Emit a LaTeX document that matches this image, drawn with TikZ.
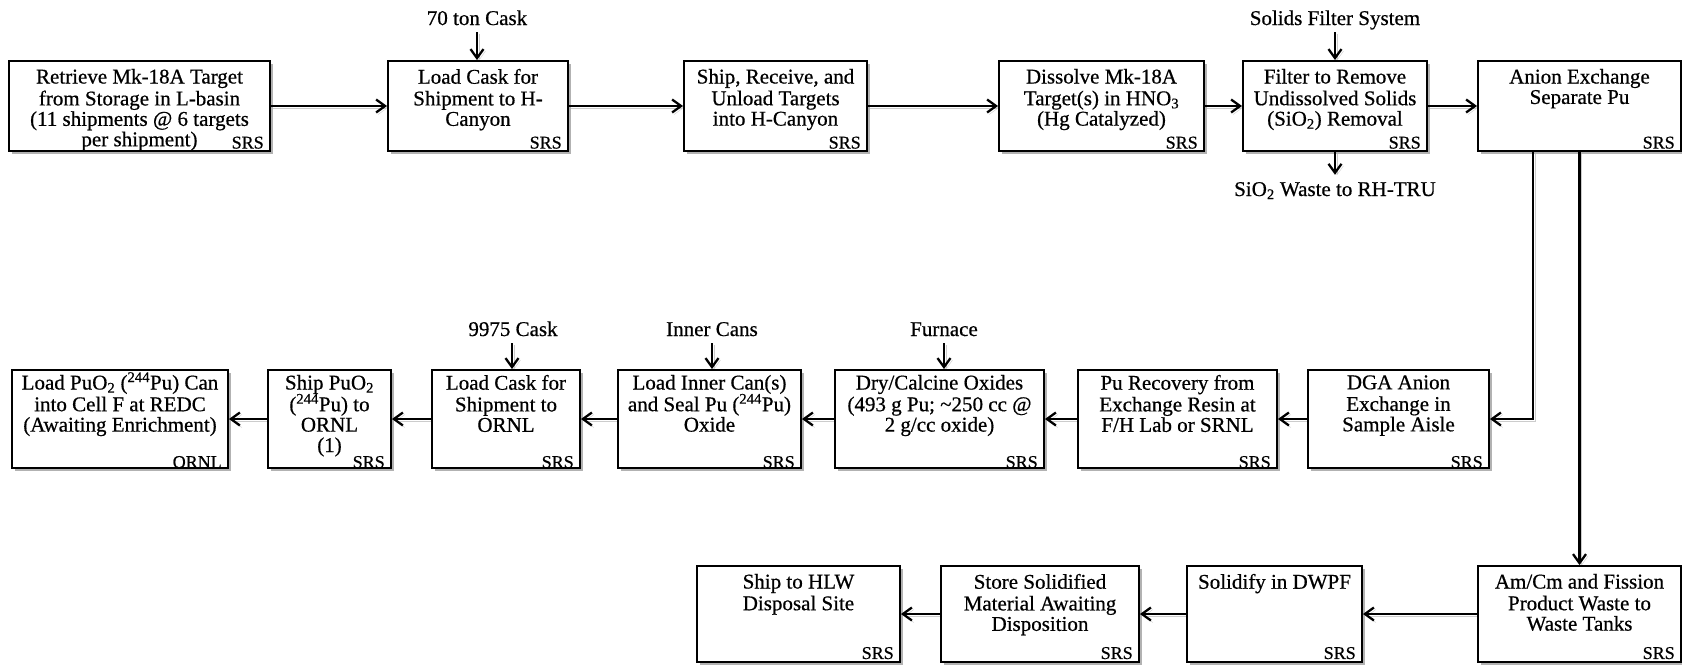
\documentclass[tikz,border=0pt]{standalone}
\usepackage{fontspec}
\setmainfont{Liberation Serif}[FakeBold=0.6]
\usetikzlibrary{arrows.meta,shadows}

% sub/superscripts that do not disturb the line spacing
\newcommand\sups[1]{\smash{\textsuperscript{#1}}}
\newcommand\subs[1]{\smash{\textsubscript{#1}}}

\tikzset{
  stagebox/.style={draw, line width=1.9pt, fill=white, inner sep=0pt,
    drop shadow={shadow xshift=2.5pt, shadow yshift=-2.5pt, fill=black, opacity=0.3}},
  stagetext/.style={anchor=north, inner sep=0pt, align=center,
    font=\fontsize{21}{20.4}\selectfont},
  sitetext/.style={anchor=base east, inner sep=0pt, font=\fontsize{18}{18}\selectfont},
  feed/.style={anchor=base, inner sep=0pt, text depth=0pt,
    font=\fontsize{21}{20.4}\selectfont},
  flow/.style={line width=2.3pt, -{Straight Barb[length=9pt,width=13pt]},
    preaction={draw=black, opacity=0.2, transform canvas={xshift=2pt,yshift=-2pt}}},
}

% process step: name, left, top, right, bottom, text, site, text drop, site lift
\newcommand\stage[9]{%
  \node[stagebox, minimum width={#4-#2}, minimum height={#5-#3}] (#1)
    at ({(#2+#4)/2},{(#3+#5)/2}) {};
  \node[stagetext] at ([yshift=-#8]#1.north) {\strut #6};
  \node[sitetext] at ([xshift=-7pt,yshift=#9]#1.south east) {#7};
}

\begin{document}
\begin{tikzpicture}[x=1pt,y=-1pt]
\useasboundingbox (0,0) rectangle (1682,665);

% ---- upper row: H-Canyon processing ----
\stage{retrieve}{9}{61}{270}{151}{Retrieve Mk-18A Target\\from Storage in L-basin\\(11 shipments @ 6 targets\\per shipment)}{SRS}{8.7pt}{3.4pt}
\stage{loadcask}{388}{61}{568}{151}{Load Cask for\\Shipment to H-\\Canyon}{SRS}{8.7pt}{3.4pt}
\stage{ship}{684}{61}{867}{151}{Ship, Receive, and\\Unload Targets\\into H-Canyon}{SRS\hspace{26pt}}{8.7pt}{3.4pt}
\stage{dissolve}{999}{61}{1204}{151}{Dissolve Mk-18A\\Target(s) in HNO\subs{3}\\(Hg Catalyzed)}{SRS}{8.7pt}{3.4pt}
\stage{filter}{1243}{61}{1427}{151}{Filter to Remove\\Undissolved Solids\\(SiO\subs{2}) Removal}{SRS}{8.7pt}{3.4pt}
\stage{anion}{1478}{61}{1681}{151}{Anion Exchange\\Separate Pu}{SRS}{8.7pt}{3.4pt}

% ---- middle row: Pu product path ----
\stage{redc}{12}{370}{228}{468}{Load PuO\subs{2} (\sups{244}Pu) Can\\into Cell F at REDC\\(Awaiting Enrichment)}{ORNL}{5.7pt}{1pt}
\stage{shipornl}{268}{370}{391}{468}{Ship PuO\subs{2}\\(\sups{244}Pu) to\\ORNL\\(1)\hspace{14pt}}{SRS}{5.7pt}{1pt}
\stage{cask9975}{432}{370}{580}{468}{Load Cask for\\Shipment to\\ORNL}{SRS}{5.7pt}{1pt}
\stage{innercan}{618}{370}{801}{468}{Load Inner Can(s)\\and Seal Pu (\sups{244}Pu)\\Oxide}{SRS}{5.7pt}{1pt}
\stage{calcine}{835}{370}{1044}{468}{Dry/Calcine Oxides\\(493 g Pu; \textasciitilde250 cc @\\2 g/cc oxide)}{SRS}{5.7pt}{1pt}
\stage{recovery}{1078}{370}{1277}{468}{Pu Recovery from\\Exchange Resin at\\F/H Lab or SRNL}{SRS}{5.7pt}{1pt}
\stage{dga}{1308}{370}{1489}{468}{DGA Anion\\Exchange in\\Sample Aisle}{SRS}{5.7pt}{1pt}

% ---- lower row: waste path ----
\stage{hlw}{697}{566}{900}{662}{Ship to HLW\\Disposal Site}{SRS}{8.7pt}{4pt}
\stage{store}{941}{566}{1139}{662}{Store Solidified\\Material Awaiting\\Disposition}{SRS}{8.7pt}{4pt}
\stage{dwpf}{1187}{566}{1362}{662}{Solidify in DWPF}{SRS}{8.7pt}{4pt}
\stage{amcm}{1478}{566}{1681}{662}{Am/Cm and Fission\\Product Waste to\\Waste Tanks}{SRS}{8.7pt}{4pt}

% ---- feeds and side streams ----
\node[feed] (cask70) at (477,25) {70 ton Cask};
\node[feed] (sfs) at (1335,25) {Solids Filter System};
\node[feed, text height=14pt] (sio) at (1335,196) {SiO\subs{2} Waste to RH-TRU};
\node[feed] (c9975) at (513,336) {9975 Cask};
\node[feed] (cans) at (712,336) {Inner Cans};
\node[feed] (furnace) at (944,336) {Furnace};

\draw[flow] ([yshift=-7pt]cask70.south) -- (cask70.south |- loadcask.north);
\draw[flow] ([yshift=-7pt]sfs.south) -- (sfs.south |- filter.north);
\draw[flow] (filter.south) -- ([yshift=7pt]sio.north);
\draw[flow] ([yshift=-7pt,xshift=-1pt]c9975.south) -- ([xshift=-1pt]c9975.south |- cask9975.north);
\draw[flow] ([yshift=-7pt]cans.south) -- (cans.south |- innercan.north);
\draw[flow] ([yshift=-7pt]furnace.south) -- (furnace.south |- calcine.north);

% ---- main flow ----
\draw[flow] (retrieve) -- (loadcask);
\draw[flow] (loadcask) -- (ship);
\draw[flow] (ship) -- (dissolve);
\draw[flow] (dissolve) -- (filter);
\draw[flow] (filter) -- (anion);

\draw[flow] ([xshift=-46.5pt]anion.south) |- (dga.east);
\draw[flow] (anion.south) -- (amcm.north);

\draw[flow] (dga) -- (recovery);
\draw[flow] (recovery) -- (calcine);
\draw[flow] (calcine) -- (innercan);
\draw[flow] (innercan) -- (cask9975);
\draw[flow] (cask9975) -- (shipornl);
\draw[flow] (shipornl) -- (redc);

\draw[flow] (amcm) -- (dwpf);
\draw[flow] (dwpf) -- (store);
\draw[flow] (store) -- (hlw);
\end{tikzpicture}
\end{document}
